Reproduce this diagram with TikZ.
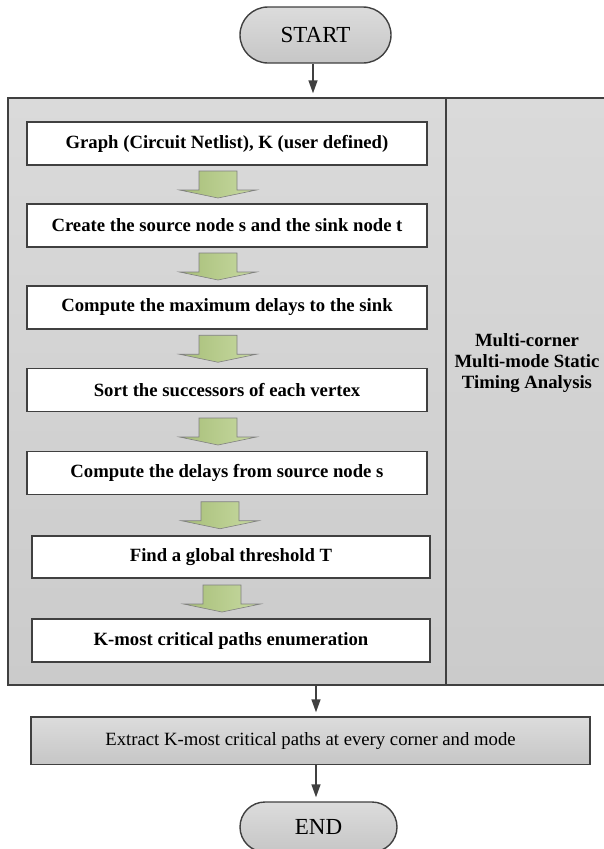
\documentclass[tikz,border=0pt]{standalone}
\usepackage{fontspec}
\setmainfont{Liberation Serif}
\usetikzlibrary{calc,arrows.meta}

\definecolor{edgegray}{HTML}{404040}
\definecolor{paneltop}{HTML}{DADADA}
\definecolor{panelbot}{HTML}{CBCBCB}
\definecolor{termtop}{HTML}{DCDCDC}
\definecolor{termbot}{HTML}{C6C6C6}
\definecolor{grnL}{HTML}{A7BE78}
\definecolor{grnR}{HTML}{C8DAA2}
\definecolor{grnedge}{HTML}{808080}

\newcommand\bxfont{\fontsize{18.7}{21}\selectfont}
\newcommand\termfont{\fontsize{23}{26}\selectfont}

\tikzset{
  panel/.style={draw=edgegray, line width=1.4pt, top color=paneltop, bottom color=panelbot,
    rectangle, inner sep=0pt},
  stepbox/.style={draw=edgegray, line width=1.4pt, fill=white, rectangle, inner sep=0pt,
    minimum height=43pt, font=\bxfont\bfseries},
  terminal/.style={draw=edgegray, line width=1.4pt, top color=termtop, bottom color=termbot,
    rectangle, rounded corners=25pt, inner sep=0pt, font=\termfont},
  extractbox/.style={draw=edgegray, line width=1.4pt, top color=termtop, bottom color=termbot,
    rectangle, inner sep=0pt, font=\bxfont},
  conn/.style={draw=edgegray, line width=1.5pt, -{Triangle[length=13pt,width=9pt]},
    shorten >=4pt},
  greenarrow/.pic={
    \draw[draw=grnedge, line width=0.6pt, left color=grnL, right color=grnR]
      (-19,-13.5) -- (19,-13.5) -- (19,5.5) -- (38.5,5.5) -- (0,13.5)
      -- (-38.5,5.5) -- (-19,5.5) -- cycle;
  }
}

\begin{document}
\begin{tikzpicture}[x=1pt,y=-1pt]
\useasboundingbox (0,0) rectangle (604,849);

% start / end terminals
\node[terminal, minimum width=151pt, minimum height=56pt, rounded corners=28pt] (start) at (315.5,35) {START};

% enclosing analysis panel and its side column
\node[panel, minimum width=438pt, minimum height=587pt] (main) at (227,391.5) {};
\node[panel, minimum width=159pt, minimum height=587pt] (side) at (525.5,391.5) {};
\node[font=\bxfont\bfseries, align=center, inner sep=0pt] (sidelabel) at (527,363)
  {Multi-corner\\Multi-mode Static\\Timing Analysis};

% algorithm steps
\node[stepbox, minimum width=400pt] (b1) at (227,143.5) {Graph (Circuit Netlist), K (user defined)};
\node[stepbox, minimum width=400pt] (b2) at (227,225.5) {Create the source node s and the sink node t};
\node[stepbox, minimum width=400pt] (b3) at (227,307.5) {Compute the maximum delays to the sink};
\node[stepbox, minimum width=400pt] (b4) at (227,390) {Sort the successors of each vertex};
\node[stepbox, minimum width=400pt] (b5) at (227,473) {Compute the delays from source node s};
\node[stepbox, minimum width=398pt, minimum height=42pt] (b6) at (231,557) {Find a global threshold T};
\node[stepbox, minimum width=398pt] (b7) at (231,640.5) {K-most critical paths enumeration};

% block arrows between the steps
\foreach \a/\b in {b1/b2,b2/b3,b3/b4,b4/b5,b5/b6,b6/b7}
  \pic at ([xshift=-9pt]$(\a.south)!0.5!(\b.north)$) {greenarrow};

% extraction step and end
\node[extractbox, minimum width=559pt, minimum height=47.5pt] (extract) at (310.5,740.75)
  {Extract K-most critical paths at every corner and mode};
\node[terminal, minimum width=157pt, minimum height=50pt] (end) at (318.5,827) {END};

% connectors
\coordinate (axis) at (316,0);
\draw[conn] (start.south -| 313,0) -- (main.north -| 313,0);
\draw[conn] (main.south -| axis) -- (extract.north -| axis);
\draw[conn] (extract.south -| axis) -- (end.north -| axis);
\end{tikzpicture}
\end{document}
